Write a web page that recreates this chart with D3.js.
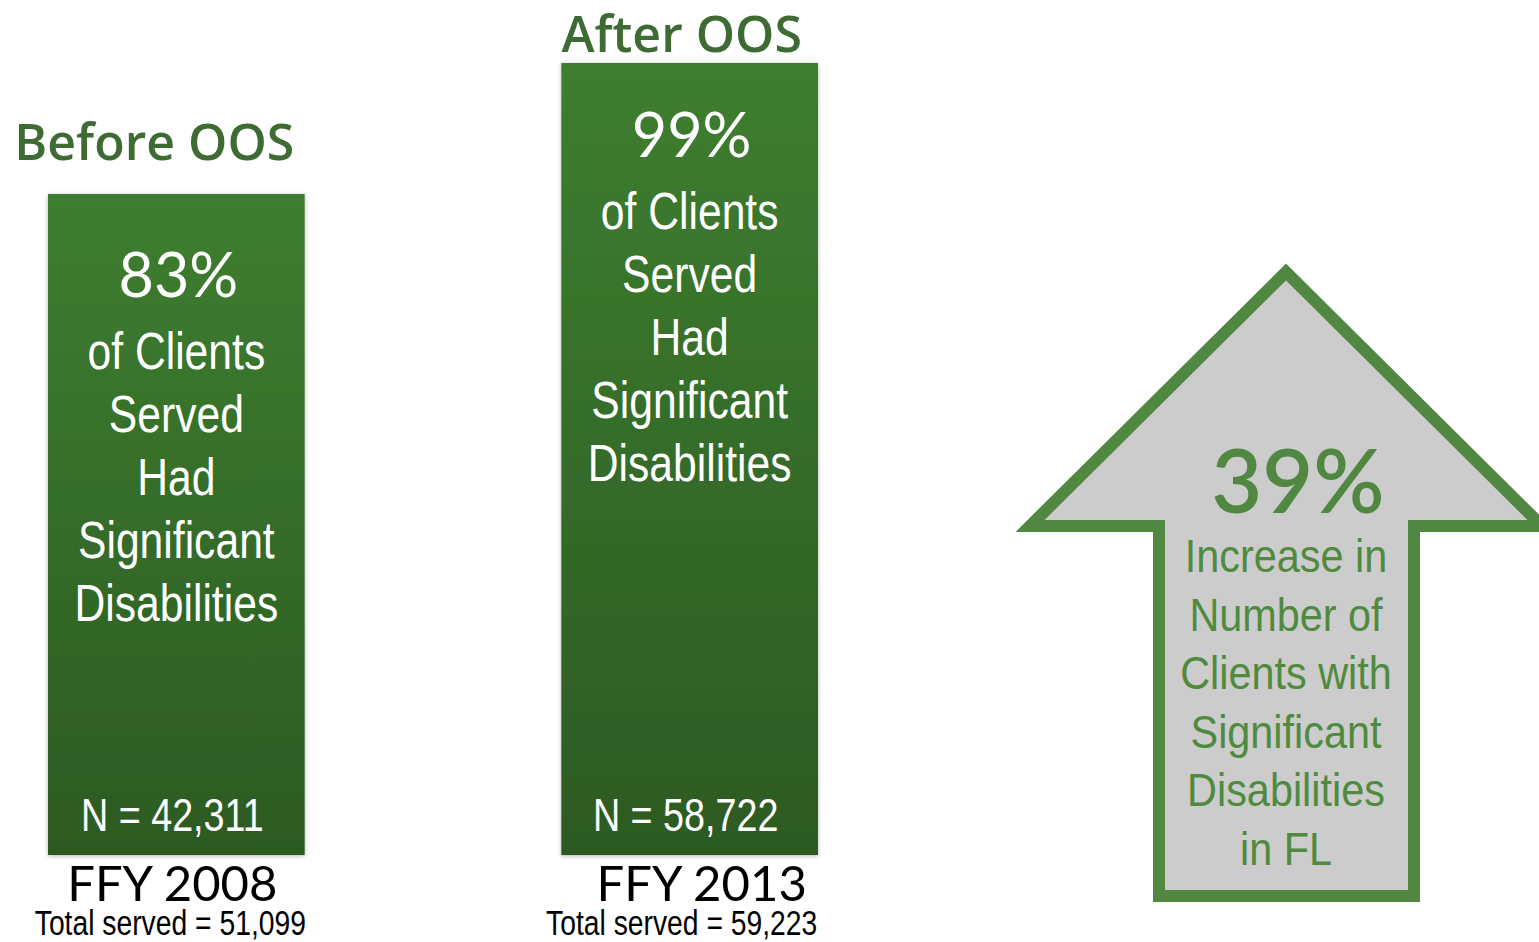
<!DOCTYPE html>
<html>
<head>
<meta charset="utf-8">
<script src="https://cdn.jsdelivr.net/npm/d3@7"></script>
<style>
  html, body { margin: 0; padding: 0; background: #ffffff; }
  svg { display: block; }
</style>
</head>
<body>
<div id="chart"></div>
<script>
// data
var groups = ["Before OOS", "After OOS"];
var percents = [83, 99];
var clientsN = [42311, 58722];
var years = ["FFY 2008", "FFY 2013"];
var totalServed = [51099, 59223];
var bodyLines = ["of Clients", "Served", "Had", "Significant", "Disabilities"];
var increasePct = 39;
var increaseLines = ["Increase in", "Number of", "Clients with", "Significant", "Disabilities", "in FL"];

var width = 1539, height = 942;
var arial = "'Liberation Sans', Arial, sans-serif";
var humanist = "Lato, 'Open Sans', sans-serif";

var svg = d3.select("#chart")
  .append("svg")
  .attr("width", width)
  .attr("height", height);

var defs = svg.append("defs");
var grad = defs.append("linearGradient")
  .attr("id", "barGrad")
  .attr("x1", 0).attr("y1", 0).attr("x2", 0).attr("y2", 1);
grad.append("stop").attr("offset", "0%").attr("stop-color", "#3e7e30");
grad.append("stop").attr("offset", "100%").attr("stop-color", "#2c5a23");

var shadow = defs.append("filter").attr("id", "shadow")
  .attr("x", "-10%").attr("y", "-10%").attr("width", "120%").attr("height", "120%");
shadow.append("feDropShadow")
  .attr("dx", 0).attr("dy", 1)
  .attr("stdDeviation", 2)
  .attr("flood-color", "#000").attr("flood-opacity", 0.3);

// narrow text: Arial metrics squeezed sideways, like Arial Narrow
function narrowText(sel, cx, cy, size, fill, txt, squeeze) {
  return sel.append("text")
    .attr("transform", "translate(" + cx + "," + cy + ") scale(" + (squeeze || 0.82) + ",1)")
    .attr("text-anchor", "middle")
    .style("font-family", arial)
    .style("font-size", size + "px")
    .style("fill", fill)
    .text(txt);
}

// scales
var x = d3.scaleBand()
  .domain(groups)
  .range([48, 818])
  .paddingInner(0.5)
  .paddingOuter(0);

var y = d3.scaleLinear()
  .domain([83, 99])
  .range([194, 63]);

var baseY = 855;

var rows = groups.map(function(g, i) {
  return {group: g, pct: percents[i], n: clientsN[i], year: years[i], total: totalServed[i], i: i};
});

// small per-bar nudges for the loose labels
var titleDx = [-22, -8], titleDy = [-34, -11];
var yearDx = [-4, 12], totalDx = [-6, -8];
var pctDy = [103, 94];

var fmt = d3.format(",");

var bars = svg.selectAll("g.bar")
  .data(rows)
  .enter()
  .append("g")
  .attr("class", "bar");

bars.append("rect")
  .attr("x", d => x(d.group))
  .attr("y", d => y(d.pct))
  .attr("width", x.bandwidth())
  .attr("height", d => baseY - y(d.pct))
  .attr("fill", "url(#barGrad)")
  .attr("filter", "url(#shadow)");

// titles above bars
bars.append("text")
  .attr("x", d => x(d.group) + x.bandwidth() / 2 + titleDx[d.i])
  .attr("y", d => y(d.pct) + titleDy[d.i])
  .attr("text-anchor", "middle")
  .style("font-family", "'Open Sans', sans-serif")
  .style("font-weight", 600)
  .style("font-size", "50px")
  .style("fill", "#3e6a33")
  .text(d => d.group);

// big percent
bars.append("text")
  .attr("x", d => x(d.group) + x.bandwidth() / 2 + 2)
  .attr("y", d => y(d.pct) + pctDy[d.i])
  .attr("text-anchor", "middle")
  .style("font-family", humanist)
  .style("font-size", "61px")
  .style("fill", "#ffffff")
  .text(d => d.pct + "%");

// descriptive lines
bars.each(function(d) {
  var g = d3.select(this);
  var cx = x(d.group) + x.bandwidth() / 2;
  var top = y(d.pct) + pctDy[d.i] + 72;
  bodyLines.forEach(function(t, j) {
    narrowText(g, cx, top + j * 63, 52, "#ffffff", t);
  });
  // N count
  narrowText(g, cx - 4, 831, 46, "#ffffff", "N = " + fmt(d.n));
  // total served
  narrowText(g, cx + totalDx[d.i], 935, 34.5, "#000000", "Total served = " + fmt(d.total));
});

// year labels
bars.append("text")
  .attr("x", d => x(d.group) + x.bandwidth() / 2 + yearDx[d.i])
  .attr("y", 901)
  .attr("text-anchor", "middle")
  .style("font-family", humanist)
  .style("font-size", "49px")
  .style("fill", "#000000")
  .text(d => d.year);

// the arrow
var ax = 1286, tipY = 272, headY = 526, headHalf = 256, shaftHalf = 127, shaftBottom = 896;
var arrowPts = [
  [ax, tipY],
  [ax + headHalf, headY],
  [ax + shaftHalf + 1, headY],
  [ax + shaftHalf + 1, shaftBottom],
  [ax - shaftHalf, shaftBottom],
  [ax - shaftHalf, headY],
  [ax - headHalf, headY]
];
svg.append("path")
  .attr("d", d3.line()(arrowPts) + "Z")
  .attr("fill", "#cccccc")
  .attr("stroke", "#508741")
  .attr("stroke-width", 12)
  .attr("stroke-linejoin", "miter");

svg.append("text")
  .attr("x", 1298)
  .attr("y", 513)
  .attr("text-anchor", "middle")
  .style("font-family", humanist)
  .style("font-weight", 600)
  .style("font-size", "88px")
  .style("fill", "#508741")
  .text(increasePct + "%");

increaseLines.forEach(function(t, j) {
  narrowText(svg, 1286, 572 + j * 58.6, 46, "#4f8a3f", t, 0.9);
});
</script>
</body>
</html>
